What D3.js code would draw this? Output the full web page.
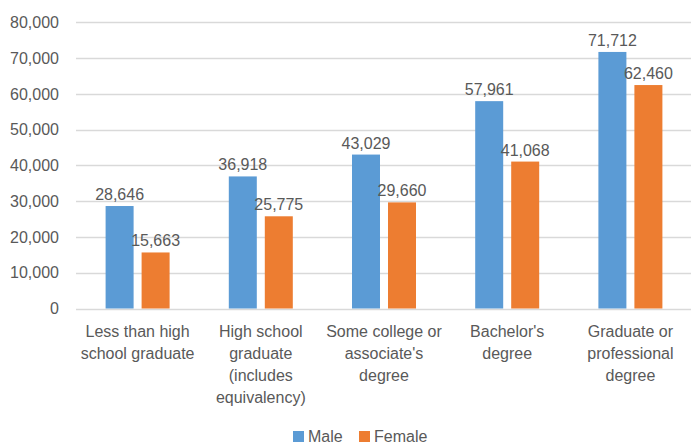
<!DOCTYPE html>
<html>
<head>
<meta charset="utf-8">
<script src="https://cdn.jsdelivr.net/npm/d3@7"></script>
<style>
  body { margin: 0; background: #fff; }
  text { font-family: "Liberation Sans", Arial, sans-serif; fill: #595959; }
</style>
</head>
<body>
<div class="chart"></div>
<script>
const categories = [
  ["Less than high", "school graduate"],
  ["High school", "graduate", "(includes", "equivalency)"],
  ["Some college or", "associate's", "degree"],
  ["Bachelor's", "degree"],
  ["Graduate or", "professional", "degree"]
];
const series = ["Male", "Female"];
const maleValues = [28646, 36918, 43029, 57961, 71712];
const femaleValues = [15663, 25775, 29660, 41068, 62460];
const yTicks = [0, 10000, 20000, 30000, 40000, 50000, 60000, 70000, 80000];

const width = 691, height = 445;
const colors = ["#5B9BD5", "#ED7D31"];
const fmt = d3.format(",");

const svg = d3.select(".chart")
  .append("svg")
    .attr("width", width)
    .attr("height", height);

const x = d3.scaleBand()
  .domain(d3.range(categories.length))
  .range([76, 692])
  .paddingInner(0)
  .paddingOuter(0);

const y = d3.scaleLinear()
  .domain([0, 80000])
  .range([308.5, 22.3]);

const barW = 28, gap = 8;

/* gridlines */
svg.append("g")
  .selectAll("line")
  .data(yTicks)
  .enter().append("line")
    .attr("x1", 76)
    .attr("x2", width)
    .attr("y1", d => Math.round(y(d)) + 0.5)
    .attr("y2", d => Math.round(y(d)) + 0.5)
    .attr("stroke", "#d9d9d9")
    .attr("stroke-width", 1.3);

/* y labels */
svg.append("g")
  .selectAll("text")
  .data(yTicks)
  .enter().append("text")
    .attr("x", 59)
    .attr("y", d => y(d))
    .attr("dy", "0.36em")
    .attr("text-anchor", "end")
    .attr("font-size", "16px")
    .text(d => fmt(d));

/* bars */
const rows = categories.map((c, i) => [maleValues[i], femaleValues[i]]);

const groups = svg.append("g")
  .selectAll("g")
  .data(rows)
  .enter().append("g")
    .attr("transform", (d, i) => "translate(" + (x(i) + x.bandwidth() / 2) + ",0)");

const bx = j => j === 0 ? -(barW + gap / 2) : gap / 2;

groups.selectAll("rect")
  .data(d => d)
  .enter().append("rect")
    .attr("x", (d, j) => bx(j))
    .attr("y", d => y(d))
    .attr("width", barW)
    .attr("height", d => y(0) - y(d))
    .attr("fill", (d, j) => colors[j]);

groups.selectAll("text")
  .data(d => d)
  .enter().append("text")
    .attr("x", (d, j) => bx(j) + barW / 2)
    .attr("y", d => y(d) - 6)
    .attr("text-anchor", "middle")
    .attr("font-size", "16px")
    .text(d => fmt(d));

/* x labels */
svg.append("g")
  .selectAll("text")
  .data(categories)
  .enter().append("text")
    .attr("x", (d, i) => x(i) + x.bandwidth() / 2)
    .attr("y", 337)
    .attr("text-anchor", "middle")
    .attr("font-size", "16px")
    .each(function(d) {
      const t = d3.select(this);
      d.forEach((line, k) => {
        t.append("tspan")
          .attr("x", t.attr("x"))
          .attr("dy", k === 0 ? 0 : 22)
          .text(line);
      });
    });

/* legend */
const legend = svg.append("g");
const legendX = [293, 359];
series.forEach((s, j) => {
  legend.append("rect")
    .attr("x", legendX[j])
    .attr("y", 431)
    .attr("width", 11)
    .attr("height", 11)
    .attr("fill", colors[j]);
  legend.append("text")
    .attr("x", legendX[j] + 15)
    .attr("y", 442)
    .attr("font-size", "16px")
    .text(s);
});
</script>
</body>
</html>
